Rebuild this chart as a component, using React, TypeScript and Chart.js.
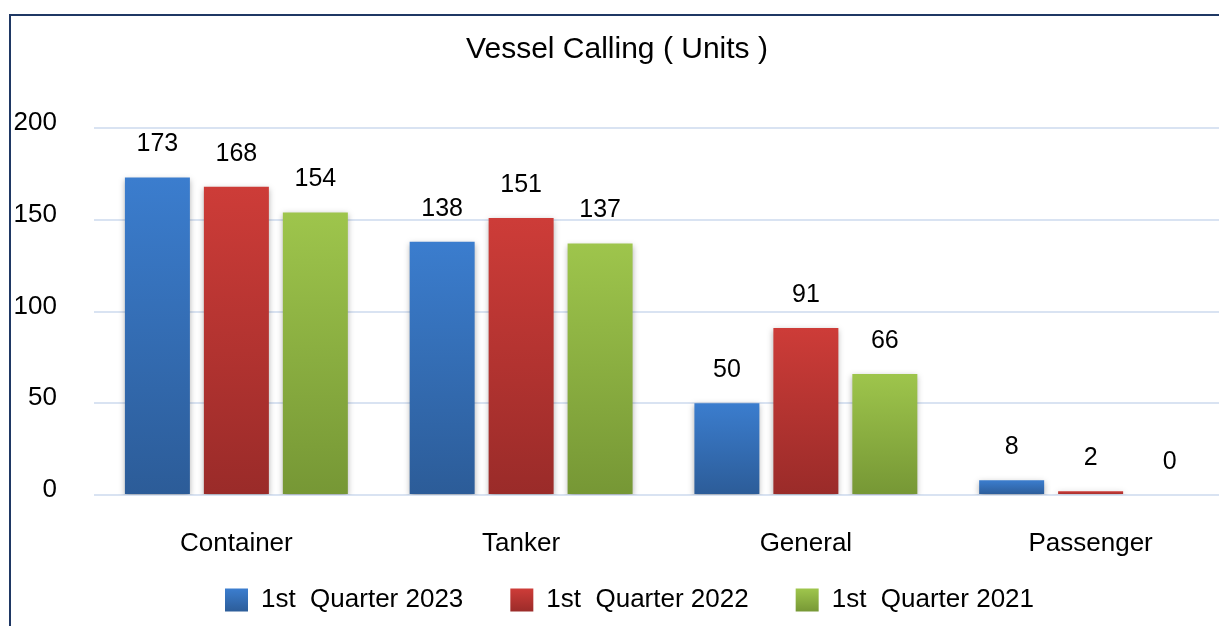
import React, { useEffect, useRef } from "react";
import { Chart, registerables } from "chart.js";
Chart.register(...registerables);

const TITLE = "Vessel Calling ( Units )";
const categories = ["Container", "Tanker", "General", "Passenger"];
const seriesNames = ["1st  Quarter 2023", "1st  Quarter 2022", "1st  Quarter 2021"];
const q2023 = [173, 138, 50, 8];
const q2022 = [168, 151, 91, 2];
const q2021 = [154, 137, 66, 0];
const yTicks = [0, 50, 100, 150, 200];

const palette = [
  { top: "#3b7dce", bottom: "#2c5c98" },
  { top: "#cd3c38", bottom: "#9a2b29" },
  { top: "#9ec54c", bottom: "#769735" },
];
const FONT = "'Liberation Sans', Arial, sans-serif";
const CW = 1250;
const CH = 647;

function makeFill(i: number) {
  return (c: any) => {
    const chart = c.chart;
    const g2d = chart.ctx as CanvasRenderingContext2D;
    const col = palette[i];
    const y = chart.scales?.y;
    if (c.type !== "data" || !chart.chartArea || !y) return col.top;
    const v = c.parsed?.y ?? 0;
    const yTop = y.getPixelForValue(v);
    const yBase = y.getPixelForValue(0);
    if (yBase - yTop < 2) return col.top;
    const g = g2d.createLinearGradient(0, yTop, 0, yBase);
    g.addColorStop(0, col.top);
    g.addColorStop(1, col.bottom);
    return g;
  };
}

const shadowPlugin = {
  id: "barShadow",
  beforeDatasetsDraw(chart: any) {
    const ctx = chart.ctx;
    ctx.save();
    ctx.shadowColor = "rgba(0,0,0,0.30)";
    ctx.shadowBlur = 6;
    ctx.shadowOffsetX = 0;
    ctx.shadowOffsetY = 2;
  },
  afterDatasetsDraw(chart: any) {
    chart.ctx.restore();
  },
};

const labelPlugin = {
  id: "valueLabels",
  afterDraw(chart: any) {
    const ctx = chart.ctx;
    ctx.save();
    ctx.font = `25px ${FONT}`;
    ctx.fillStyle = "#000";
    ctx.textAlign = "center";
    ctx.textBaseline = "middle";
    chart.data.datasets.forEach((ds: any, di: number) => {
      const meta = chart.getDatasetMeta(di);
      meta.data.forEach((el: any, i: number) => {
        ctx.fillText(String(ds.data[i]), el.x, el.y - 33);
      });
    });
    ctx.restore();
  },
};

const titlePlugin = {
  id: "customTitle",
  afterDraw(chart: any) {
    const ctx = chart.ctx;
    ctx.save();
    ctx.font = `30px ${FONT}`;
    ctx.fillStyle = "#000";
    ctx.textAlign = "center";
    ctx.textBaseline = "middle";
    ctx.fillText(TITLE, 617, 50);
    ctx.restore();
  },
};

// nudge the legend box (layout fine-tuning)
const legendShift = {
  id: "legendShift",
  afterLayout(chart: any) {
    const lg = chart.legend;
    if (!lg) return;
    lg.top -= 19;
    lg.bottom -= 19;
    lg.left += 8;
    lg.right += 8;
  },
};

export default function App() {
  const ref = useRef<HTMLCanvasElement>(null);
  useEffect(() => {
    if (!ref.current) return;
    const seriesData = [q2023, q2022, q2021];
    const defaultLabels = Chart.defaults.plugins.legend.labels.generateLabels;
    const chart = new Chart(ref.current, {
      type: "bar",
      data: {
        labels: categories,
        datasets: seriesNames.map((name, i) => ({
          label: name,
          data: seriesData[i],
          backgroundColor: makeFill(i) as any,
          borderWidth: 0,
          categoryPercentage: 0.832,
          barPercentage: 0.823,
        })),
      },
      options: {
        responsive: false,
        animation: false,
        devicePixelRatio: 1,
        layout: { padding: { top: 128, left: 10, right: 17, bottom: 5 } },
        plugins: {
          title: { display: false },
          tooltip: { enabled: false },
          legend: {
            position: "bottom",
            labels: {
              boxWidth: 23,
              boxHeight: 23,
              padding: 47,
              color: "#000",
              font: { family: FONT, size: 26 },
              generateLabels: (ch: any) => {
                const items = defaultLabels(ch);
                return items.map((it: any, i: number) => {
                  const g = ch.ctx.createLinearGradient(0, 589, 0, 612);
                  g.addColorStop(0, palette[i].top);
                  g.addColorStop(1, palette[i].bottom);
                  return { ...it, fillStyle: g, strokeStyle: g, lineWidth: 0 };
                });
              },
            },
          },
        },
        scales: {
          x: {
            grid: { display: false, drawTicks: false },
            border: { display: false },
            ticks: { color: "#000", padding: 33, font: { family: FONT, size: 26 } },
            afterFit: (s: any) => {
              s.height = 64;
            },
          },
          y: {
            min: 0,
            max: 200,
            afterBuildTicks: (s: any) => {
              s.ticks = yTicks.map((v) => ({ value: v }));
            },
            grid: { color: "#d9e3f2", lineWidth: 2, drawTicks: false },
            border: { display: false },
            ticks: {
              color: "#000",
              padding: 37,
              labelOffset: -5,
              font: { family: FONT, size: 26 },
            },
            afterFit: (s: any) => {
              s.width = 84;
            },
          },
        },
      },
      plugins: [shadowPlugin, labelPlugin, titlePlugin, legendShift],
    });
    return () => chart.destroy();
  }, []);

  return (
    <div
      style={{
        position: "fixed",
        left: 0,
        top: 0,
        width: 1219,
        height: 626,
        overflow: "hidden",
        background: "#fff",
      }}
    >
      <div
        style={{
          position: "absolute",
          left: 9,
          top: 14,
          width: 1300,
          height: 700,
          borderLeft: "2px solid #1f3864",
          borderTop: "2px solid #1f3864",
        }}
      />
      <canvas
        ref={ref}
        width={CW}
        height={CH}
        style={{ position: "absolute", left: 0, top: 0, width: CW, height: CH }}
      />
    </div>
  );
}
